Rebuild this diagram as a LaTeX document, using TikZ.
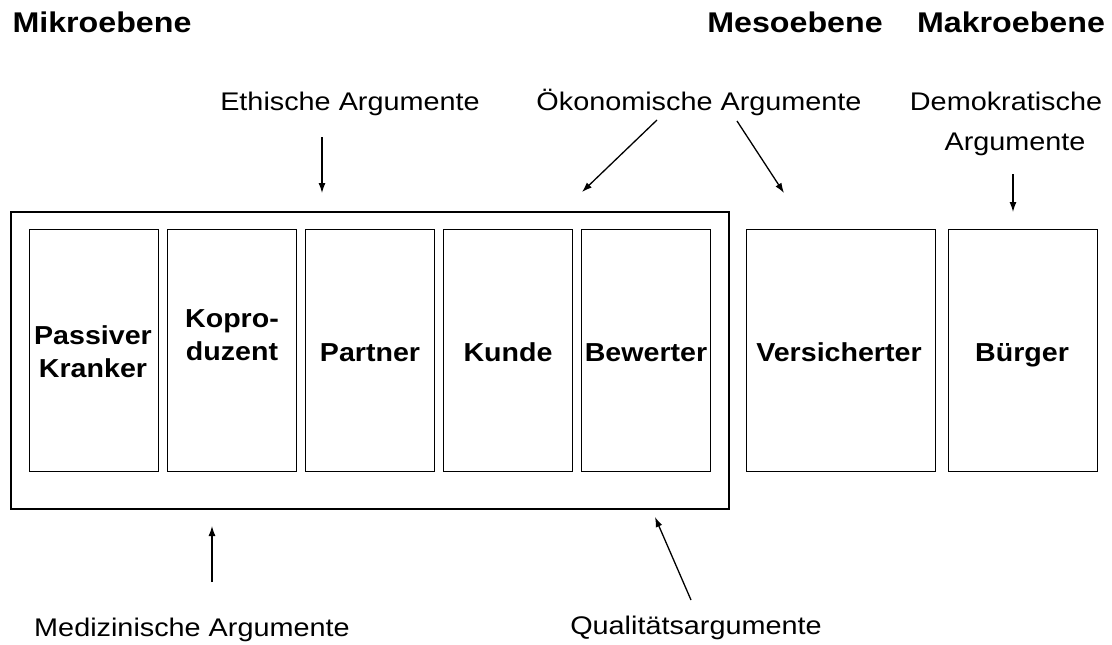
\documentclass[tikz,border=0pt]{standalone}
\usepackage{fontspec}
\setmainfont{Liberation Sans}[FakeStretch=1.13]
\newfontfamily\rolefont{Liberation Sans}[FakeStretch=1.1]
\newfontfamily\headfont{Liberation Sans}[FakeStretch=1.13]
\usetikzlibrary{arrows.meta}
\tikzset{
  role/.style={draw=black, line width=1.3pt, minimum width=129pt, minimum height=242pt, inner sep=0pt, anchor=north west},
  rolelabel/.style={font=\rolefont\fontsize{26}{33}\selectfont\bfseries, align=center, inner sep=0pt},
  header/.style={font=\headfont\fontsize{28.5}{34}\selectfont\bfseries, inner sep=0pt, anchor=base},
  arglabel/.style={font=\fontsize{25.5}{40}\selectfont, align=center, inner sep=0pt},
  argarrow/.style={line width=1.3pt, -{Latex[length=10pt,width=7pt]}},
}
\begin{document}
\begin{tikzpicture}[x=1pt,y=-1pt]
\useasboundingbox[fill=white] (0,0) rectangle (1112,645);
% headers
\node[header] (mikro) at (102,32) {Mikroebene};
\node[header] (meso) at (795,32) {Mesoebene};
\node[header] (makro) at (1011,32) {Makroebene};
% outer frame
\node[draw=black, line width=1.8pt, minimum width=718pt, minimum height=297pt, inner sep=0pt, anchor=north west] (mikrobox) at (10,211) {};
% role boxes
\node[role] (b1) at (29,229) {};
\node[role] (b2) at (167,229) {};
\node[role] (b3) at (305,229) {};
\node[role] (b4) at (443,229) {};
\node[role] (b5) at (581,229) {};
\node[role, minimum width=189pt] (b6) at (746,229) {};
\node[role, minimum width=149pt] (b7) at (948,229) {};
% role labels
\node[rolelabel] (t1) at (93,352) {Passiver\\Kranker};
\node[rolelabel] (t2) at (232,335) {Kopro-\\duzent};
\node[rolelabel, anchor=base] (t3) at (370,361) {Partner};
\node[rolelabel, anchor=base] (t4) at (508,361) {Kunde};
\node[rolelabel, anchor=base] (t5) at (646,361) {Bewerter};
\node[rolelabel, anchor=base] (t6) at (839,361) {Versicherter};
\node[rolelabel, anchor=base] (t7) at (1022,361) {Bürger};
% argument labels
\node[arglabel, anchor=base] (eth) at (350,110) {Ethische Argumente};
\node[arglabel, anchor=base] (oek) at (699,110) {Ökonomische Argumente};
\node[arglabel] (demo) at (1006,124) {Demokratische\\\hspace*{18pt}Argumente};
\node[arglabel, anchor=base] (med) at (192,636) {Medizinische Argumente};
\node[arglabel, anchor=base] (qual) at (696,634) {Qualitätsargumente};
% arrow ends
\coordinate (ethS) at (322,137);
\coordinate (ethE) at (322,193);
\coordinate (oekS1) at (657,120);
\coordinate (oekE1) at (582,192);
\coordinate (oekS2) at (737,121);
\coordinate (oekE2) at (784,193);
\coordinate (demoS) at (1013,174);
\coordinate (demoE) at (1013,212);
\coordinate (medS) at (212,582);
\coordinate (medE) at (212,526);
\coordinate (qualS) at (691,600);
\coordinate (qualE) at (655,517);
\draw[argarrow] (ethS) -- (ethE);
\draw[argarrow] (oekS1) -- (oekE1);
\draw[argarrow] (oekS2) -- (oekE2);
\draw[argarrow] (demoS) -- (demoE);
\draw[argarrow] (medS) -- (medE);
\draw[argarrow] (qualS) -- (qualE);
\end{tikzpicture}
\end{document}
